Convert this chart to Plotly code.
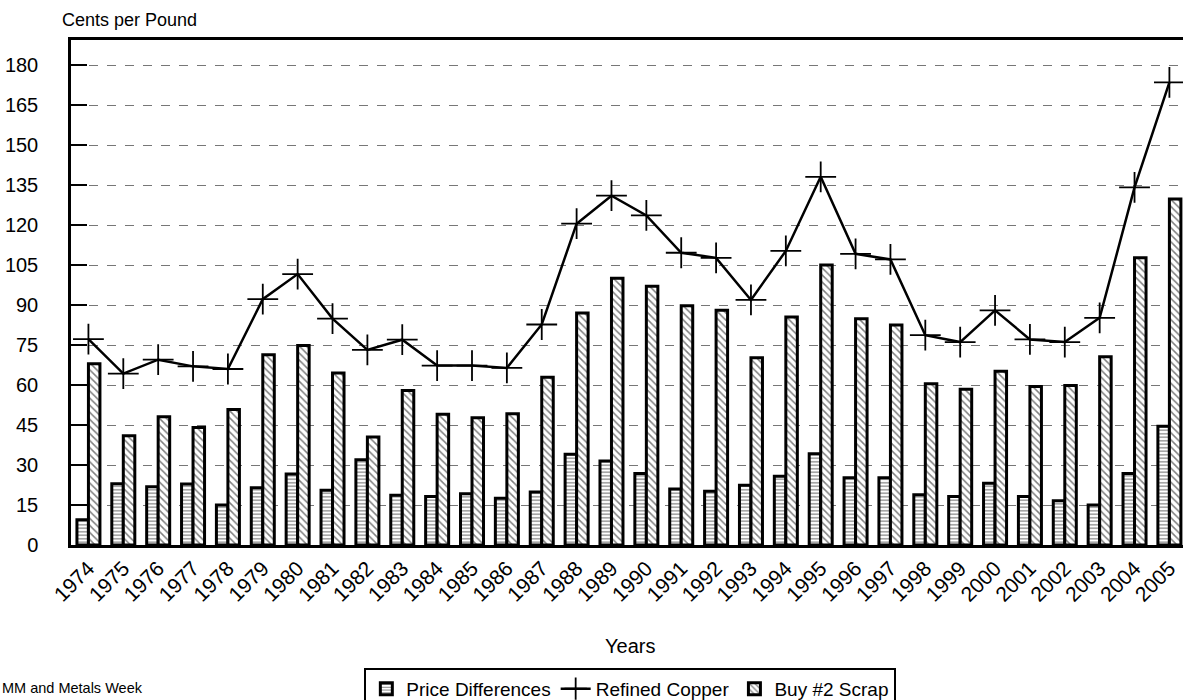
import plotly.graph_objects as go

# Annual copper prices, cents per pound
years = [str(y) for y in range(1974, 2006)]

price_differences = [9.5, 23.0, 21.8, 22.9, 15.0, 21.5, 26.6, 20.5, 32.0, 18.7,
                     18.2, 19.2, 17.5, 19.9, 34.0, 31.5, 26.8, 21.0, 20.2, 22.4,
                     25.8, 34.2, 25.2, 25.2, 18.8, 18.2, 23.2, 18.2, 16.6, 15.0,
                     26.8, 44.5]

refined_copper = [77.2, 64.3, 69.5, 67.0, 66.0, 92.2, 101.6, 84.9, 73.2, 77.0,
                  67.3, 67.3, 66.4, 82.7, 120.5, 131.0, 123.6, 109.6, 107.7, 91.9,
                  110.3, 138.1, 109.2, 107.1, 78.7, 76.1, 88.0, 77.1, 76.1, 85.2,
                  134.1, 173.5]

buy_no2_scrap = [68.0, 41.0, 48.1, 44.1, 50.8, 71.4, 74.8, 64.5, 40.5, 57.9,
                 49.0, 47.7, 49.2, 62.9, 87.0, 100.0, 97.0, 89.7, 88.0, 70.2,
                 85.5, 105.0, 84.9, 82.5, 60.5, 58.4, 65.2, 59.4, 59.8, 70.6,
                 107.7, 129.8]

y_ticks = list(range(0, 181, 15))

FONT = "Liberation Sans, Arial, sans-serif"

fig = go.Figure()

fig.add_trace(go.Bar(
    x=years, y=price_differences, name="Price Differences",
    marker=dict(color="white",
                line=dict(color="black", width=3),
                pattern=dict(shape="-", fgcolor="black", bgcolor="white",
                             size=3.5, solidity=0.35)),
))

fig.add_trace(go.Scatter(
    x=years, y=refined_copper, name="Refined Copper",
    mode="lines+markers",
    line=dict(color="black", width=2.5),
    marker=dict(symbol="cross-thin", size=22, color="black",
                line=dict(color="black", width=1.8)),
))

fig.add_trace(go.Bar(
    x=years, y=buy_no2_scrap, name="Buy #2 Scrap",
    marker=dict(color="white",
                line=dict(color="black", width=3),
                pattern=dict(shape="\\", fgcolor="black", bgcolor="white",
                             size=5, solidity=0.3)),
))

fig.update_layout(
    width=1183, height=700,
    margin=dict(l=71, r=0, t=40, b=155, autoexpand=False),
    paper_bgcolor="white", plot_bgcolor="white",
    barmode="group", bargap=0.34, bargroupgap=0,
    font=dict(family=FONT, color="black"),
    showlegend=True,
    legend=dict(
        orientation="h", x=0.503, xanchor="center",
        yref="container", y=0.046, yanchor="top",
        bordercolor="black", borderwidth=2, bgcolor="white",
        font=dict(size=19, family=FONT), itemwidth=30,
        traceorder="normal", tracegroupgap=0,
    ),
    xaxis=dict(
        type="category", range=[-0.5, 31.39], automargin=False,
        showline=True, linecolor="black", linewidth=2.5, mirror=True,
        showgrid=False, ticks="",
        tickangle=-45, tickfont=dict(size=21, family=FONT),
    ),
    yaxis=dict(
        range=[0, 189.4], tickvals=y_ticks, automargin=False,
        showline=True, linecolor="black", linewidth=2.5,
        ticks="inside", ticklen=16, tickwidth=2, tickcolor="black",
        showgrid=True, gridcolor="#777", gridwidth=1, griddash="dash",
        zeroline=False,
        tickfont=dict(size=20, family=FONT),
        ticklabelstandoff=26,
    ),
    annotations=[
        dict(text="Cents per Pound", xref="paper", yref="paper",
             x=-0.0099, y=1.04, xanchor="left", yanchor="middle",
             showarrow=False, font=dict(size=18, family=FONT)),
        dict(text="Years", xref="paper", yref="paper",
             x=0.503, y=-0.2, xanchor="center", yanchor="middle",
             showarrow=False, font=dict(size=20, family=FONT)),
        dict(text="MM and Metals Week", xref="paper", yref="paper",
             x=-0.0639, y=-0.283, xanchor="left", yanchor="middle",
             showarrow=False, font=dict(size=14.5, family=FONT)),
    ],
)

fig.write_html("out.html")
